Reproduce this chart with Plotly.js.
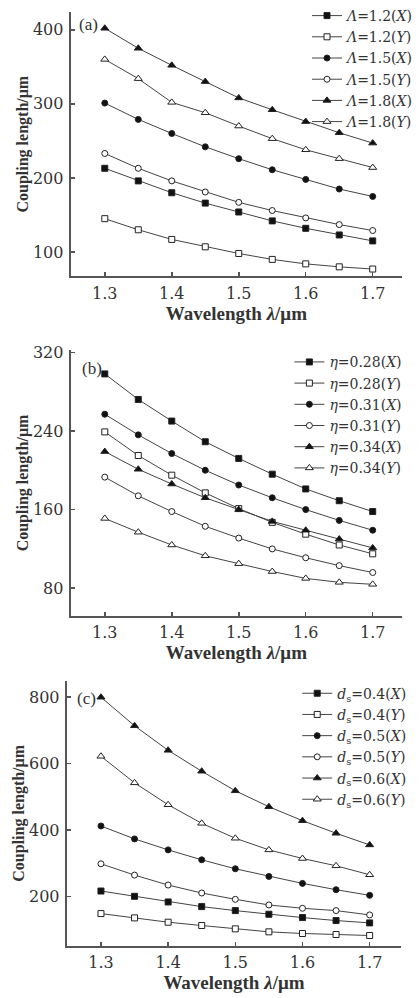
<!DOCTYPE html>
<html>
<head>
<meta charset="utf-8">
<script src="https://cdn.plot.ly/plotly-3.0.1.min.js"></script>
<style>html,body{margin:0;padding:0;background:#fff;}#chart{width:420px;height:998px;}</style>
</head>
<body>
<div id="chart"></div>
<script>
// ---- data ----
const wavelength = [1.3, 1.35, 1.4, 1.45, 1.5, 1.55, 1.6, 1.65, 1.7];

// panel (a): pitch Λ
const a_L12X = [213, 196, 180, 166, 154, 142, 132, 123, 115];
const a_L12Y = [145, 130, 117, 107, 98, 90, 84, 80, 77];
const a_L15X = [301, 279, 260, 242, 226, 211, 198, 185, 175];
const a_L15Y = [233, 213, 196, 181, 167, 156, 146, 137, 129];
const a_L18X = [402, 375, 352, 330, 308, 292, 276, 261, 247];
const a_L18Y = [360, 334, 302, 288, 270, 253, 238, 226, 214];
const a_names = ["<i>Λ</i>=1.2(<i>X</i>)", "<i>Λ</i>=1.2(<i>Y</i>)", "<i>Λ</i>=1.5(<i>X</i>)", "<i>Λ</i>=1.5(<i>Y</i>)", "<i>Λ</i>=1.8(<i>X</i>)", "<i>Λ</i>=1.8(<i>Y</i>)"];

// panel (b): η
const b_e28X = [298, 272, 250, 229, 212, 196, 181, 169, 158];
const b_e28Y = [239, 215, 195, 177, 161, 147, 135, 124, 115];
const b_e31X = [257, 236, 217, 200, 185, 172, 160, 149, 139];
const b_e31Y = [193, 174, 158, 143, 131, 120, 111, 103, 96];
const b_e34X = [219, 201, 186, 172, 160, 148, 139, 130, 121];
const b_e34Y = [151, 137, 124, 113, 105, 97, 90, 86, 84];
const b_names = ["<i>η</i>=0.28(<i>X</i>)", "<i>η</i>=0.28(<i>Y</i>)", "<i>η</i>=0.31(<i>X</i>)", "<i>η</i>=0.31(<i>Y</i>)", "<i>η</i>=0.34(<i>X</i>)", "<i>η</i>=0.34(<i>Y</i>)"];

// panel (c): d_s
const c_d4X = [216, 200, 183, 169, 157, 146, 136, 127, 120];
const c_d4Y = [148, 135, 122, 112, 102, 93, 88, 85, 82];
const c_d5X = [412, 373, 340, 310, 283, 260, 239, 220, 203];
const c_d5Y = [298, 264, 234, 210, 191, 174, 164, 157, 144];
const c_d6X = [800, 714, 640, 577, 518, 470, 428, 390, 355];
const c_d6Y = [622, 542, 476, 420, 375, 340, 314, 292, 265];
const c_names = ["<i>d</i><sub>s</sub>=0.4(<i>X</i>)", "<i>d</i><sub>s</sub>=0.4(<i>Y</i>)", "<i>d</i><sub>s</sub>=0.5(<i>X</i>)", "<i>d</i><sub>s</sub>=0.5(<i>Y</i>)", "<i>d</i><sub>s</sub>=0.6(<i>X</i>)", "<i>d</i><sub>s</sub>=0.6(<i>Y</i>)"];

const yTitle = "<b>Coupling length/μm</b>";
const xTitle = "<b>Wavelength <i>λ</i>/μm</b>";

// ---- styling ----
const ink = "#333";
const symbols = ["square", "square", "circle", "circle", "triangle-up", "triangle-up"];
const filled = [true, false, true, false, true, false];
const SERIF = "Liberation Serif, Times New Roman, serif";
const WIDE = "DejaVu Serif, serif";

function mk(ys, i, name, xa, ya, lg) {
  return {
    x: wavelength, y: ys, name: name, type: "scatter", mode: "lines+markers",
    xaxis: xa, yaxis: ya, legend: lg,
    line: {color: "#444", width: 1},
    marker: {symbol: symbols[i], size: symbols[i].startsWith("triangle") ? 7 : 6,
             color: filled[i] ? "#111" : "#fff", line: {color: "#222", width: 1}}
  };
}

const traces = [];
[a_L12X, a_L12Y, a_L15X, a_L15Y, a_L18X, a_L18Y].forEach((s, i) => traces.push(mk(s, i, a_names[i], "x", "y", "legend")));
[b_e28X, b_e28Y, b_e31X, b_e31Y, b_e34X, b_e34Y].forEach((s, i) => traces.push(mk(s, i, b_names[i], "x2", "y2", "legend2")));
[c_d4X, c_d4Y, c_d5X, c_d5Y, c_d6X, c_d6Y].forEach((s, i) => traces.push(mk(s, i, c_names[i], "x3", "y3", "legend3")));

const W = 420, H = 998;
function xax(l, r, range, anchor) {
  return {
    domain: [l / W, r / W], range: range, anchor: anchor,
    tickmode: "linear", tick0: 1.3, dtick: 0.1, tickformat: ".1f",
    ticks: "inside", ticklen: 4, tickwidth: 1.5, tickcolor: "#555",
    showline: true, linecolor: "#555", linewidth: 2, mirror: false,
    showgrid: false, zeroline: false,
    tickfont: {family: WIDE, size: 16, color: ink},
    ticklabelstandoff: 1,
    title: {text: xTitle, font: {family: SERIF, size: 19, color: ink}, standoff: 4}
  };
}
function yax(top, bot, range, dtick, anchor) {
  return {
    domain: [1 - bot / H, 1 - top / H], range: range, anchor: anchor,
    tickmode: "linear", tick0: 0, dtick: dtick,
    ticks: "inside", ticklen: 4, tickwidth: 1.5, tickcolor: "#555",
    showline: true, linecolor: "#555", linewidth: 2,
    showgrid: false, zeroline: false,
    tickfont: {family: WIDE, size: 16, color: ink},
    ticklabelstandoff: 2,
    title: {text: yTitle, font: {family: SERIF, size: 16, color: ink}, standoff: 0}
  };
}
function leg(x, yTop) {
  return {x: x / W, y: 1 - yTop / H, xanchor: "left", yanchor: "top",
          bgcolor: "rgba(0,0,0,0)", borderwidth: 0, itemwidth: 30,
          font: {family: WIDE, size: 14, color: ink}, tracegroupgap: 0};
}

const layout = {
  width: W, height: H, margin: {l: 0, r: 0, t: 0, b: 0},
  paper_bgcolor: "#fff", plot_bgcolor: "#fff",
  showlegend: true,
  xaxis: xax(72, 410, [1.249, 1.744], "y"),
  yaxis: yax(10, 275, [67, 424], 100, "x"),
  xaxis2: xax(72, 410, [1.249, 1.744], "y2"),
  yaxis2: yax(349, 615, [52, 322], 80, "x2"),
  xaxis3: xax(68, 409, [1.249, 1.747], "y3"),
  yaxis3: yax(680, 946, [50, 850], 200, "x3"),
  legend: leg(313, -2),
  legend2: leg(295, 345),
  legend3: leg(303, 677),
  annotations: [
    {text: "(a)", xref: "paper", yref: "paper", x: 79 / W, y: 1 - 23 / H, xanchor: "left", yanchor: "middle", showarrow: false, font: {family: SERIF, size: 17, color: ink}},
    {text: "(b)", xref: "paper", yref: "paper", x: 82 / W, y: 1 - 367 / H, xanchor: "left", yanchor: "middle", showarrow: false, font: {family: SERIF, size: 17, color: ink}},
    {text: "(c)", xref: "paper", yref: "paper", x: 76 / W, y: 1 - 698 / H, xanchor: "left", yanchor: "middle", showarrow: false, font: {family: SERIF, size: 17, color: ink}}
  ]
};

Plotly.newPlot("chart", traces, layout, {staticPlot: true, displayModeBar: false});
</script>
</body>
</html>
